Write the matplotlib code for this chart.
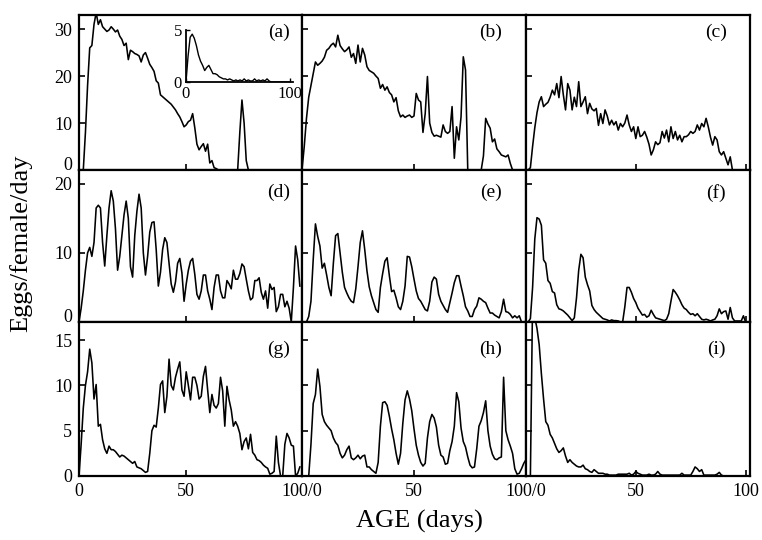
import numpy as np
import matplotlib
matplotlib.use("Agg")
from matplotlib import pyplot as plt

plt.rcParams['font.family'] = ['Liberation Serif', 'DejaVu Serif']

# eggs per female per day, one value per day of age (day 0, 1, 2, ...)
eggs_a = [0, 0, 0, 8, 18, 26, 26.5, 31, 33.5, 31,
          32, 30.5, 30, 29.5, 29.8, 30.5, 30, 29.4, 29.8, 28.5,
          27.8, 26.5, 27, 23.5, 25.5, 25.2, 24.8, 24.6, 24.3, 23,
          24.5, 25, 23.8, 22.5, 21.8, 21, 19, 18.5, 16, 15.6,
          15.2, 14.8, 14.4, 14, 13.4, 12.8, 12, 11.3, 10.3, 9.2,
          9.6, 10.3, 10.6, 12, 9, 5.5, 4.3, 5, 5.6, 4.0,
          5.5, 1.5, 2.0, 0.5, 0.3, 0, 0, 0, 0, 0,
          0, 0, 0, 0, 0, 8, 14.9, 10, 2, 0,
          0, 0, 0, 0, 0, 0, 0, 0, 0, 0,
          0, 0, 0, 0, 0, 0, 0, 0, 0, 0, 0]

eggs_b = [0, 5, 11, 15.5, 18, 20.5, 23, 22.3, 22.7, 23.2,
          24, 25.5, 25.9, 26.6, 27, 26.2, 28.7, 26.5, 25.8, 25.2,
          25.6, 26.2, 24, 24.8, 22.7, 26.6, 23, 25.9, 24.5, 22,
          21.2, 20.9, 20.6, 20, 19.5, 17.4, 18.2, 17, 17.7, 16.5,
          16, 14.5, 15.4, 12.6, 11.3, 11.7, 11.2, 11.5, 11.7, 11.2,
          11.5, 16.3, 14.9, 14.5, 8, 12, 19.9, 10, 8, 7.2,
          7.4, 7.2, 7.0, 9.6, 8.2, 7.8, 8.2, 13.5, 2.5, 9.2,
          6.4, 11.3, 24.1, 21.3, 0, 0, 0, 0, 0, 0,
          0, 3, 11, 9.8, 8.9, 6, 6.6, 4.5, 3.9, 3.2,
          3, 2.8, 3.2, 1.4, 0, 0, 0, 0, 0, 0, 0]

eggs_c = [0, 0, 0.5, 5, 9, 12.2, 14.5, 15.6, 13.5, 14,
          14.4, 15.5, 17, 16, 18.4, 15.4, 19.9, 16, 12.8, 18.4,
          17, 12.8, 15.5, 13.5, 18.8, 13.5, 14.5, 15.6, 12, 14.2,
          13, 12.6, 13.1, 9.5, 12, 9.9, 12.8, 11.5, 9.6, 10.6,
          9.6, 10.3, 8.5, 9.9, 9.2, 10, 11.7, 9.6, 8.2, 9.2,
          6.7, 9.2, 7.1, 7.4, 8.2, 7, 5.5, 3.2, 4.3, 6,
          5.4, 5.8, 8.2, 6.8, 8.5, 6, 9.2, 6.7, 8.2, 6.4,
          7.4, 6, 7.1, 7.1, 7.5, 8.2, 7.8, 8.2, 9.6, 8.5,
          9.9, 9.2, 11, 9.2, 7, 5.3, 7.1, 6.4, 3.9, 3.2,
          3.9, 2.5, 1.1, 2.8, 0, 0, 0, 0, 0, 0, 0]

eggs_d = [0, 2, 4.5, 7.5, 10, 10.8, 9.5, 11.5, 16.5, 16.9,
          16.5, 11.5, 8.1, 12.5, 16.5, 19, 17.5, 13.5, 7.5, 9.5,
          12.5, 15.5, 17.5, 15, 8, 6.5, 12.5, 16, 18.5, 16.5,
          10, 6.8, 9.5, 13, 14.4, 14.5, 10.5, 5.2, 7.2, 10.5,
          12.2, 11.5, 8.5, 5.5, 4.3, 5.8, 8.5, 9.2, 7.1, 3,
          5.5, 7.5, 8.8, 9.2, 6.9, 4, 3.3, 4.5, 6.8, 6.8,
          4.5, 3.3, 1.8, 5, 6.8, 6.8, 4.5, 3.5, 3.5, 6,
          5.5, 4.8, 7.5, 6.2, 6.2, 7, 8.4, 8, 6.2, 4.5,
          3.2, 3.5, 6, 6, 6.4, 4.3, 3.3, 4.5, 2, 5.5,
          4.7, 5, 1.5, 2.2, 4, 4, 2.2, 3, 2, 0,
          5, 11, 9, 5.2]

eggs_e = [0, 0, 0, 0.8, 3, 9, 14.2, 12.4, 11, 7.8,
          8.5, 6.8, 5, 3.8, 8.5, 12.5, 12.8, 10, 7.2, 5,
          4.2, 3.5, 3, 2.8, 4.8, 8, 11.5, 13.2, 10.5, 7.4,
          5.1, 3.8, 2.8, 1.8, 1.4, 5, 7, 8.8, 9.3, 6.7,
          4.4, 4.6, 3.5, 2.2, 1.8, 3, 5.2, 9.5, 9.4, 8,
          6.2, 4.5, 3.4, 3, 2.4, 1.8, 1.6, 3, 5.8, 6.5,
          6.2, 4, 3, 2.4, 1.8, 1.4, 2.8, 4.2, 5.7, 6.7,
          6.7, 5.2, 3.8, 2.2, 1.6, 0.8, 0.8, 1.8, 2.3, 3.5,
          3.3, 3, 2.8, 2, 1.3, 1.3, 1, 0.8, 0.6, 1.5,
          3.3, 1.5, 1.4, 1.1, 0.6, 0.9, 0.6, 0.9, 0, 0, 0]

eggs_f = [0, 0, 0.5, 5, 12, 15.1, 14.9, 14, 9, 8.5,
          6, 5.6, 4.4, 4.2, 2.5, 1.9, 1.8, 1.6, 1.3, 1.0,
          0.6, 0.2, 0.6, 3.5, 7.5, 9.8, 9.3, 6.5, 5.4, 4.5,
          2.4, 1.8, 1.4, 1.1, 0.8, 0.5, 0.4, 0.3, 0.15, 0.3,
          0.2, 0.2, 0.15, 0, 0, 2.2, 5, 5, 4.3, 3.4,
          2.8, 2, 1.5, 1, 1.1, 0.7, 0.9, 1.7, 1.1, 0.6,
          0.5, 0.4, 0.3, 0.2, 0.4, 1.2, 3, 4.7, 4.3, 3.8,
          3.2, 2.5, 2, 1.8, 1.4, 1.1, 1.2, 0.9, 1.2, 0.8,
          0.4, 0.3, 0.4, 0.3, 0.15, 0.3, 0.4, 0.9, 1.9, 1.2,
          1.5, 1.6, 0.4, 2.1, 0.6, 0.15, 0.15, 0.15, 0.15, 0.9, 0]

eggs_g = [0, 3.5, 7.5, 10, 11.5, 14, 12.5, 8.5, 10.1, 5.5,
          5.7, 4, 3, 2.5, 3.3, 2.9, 2.9, 2.7, 2.4, 2.1,
          2.3, 2.2, 2, 1.8, 1.6, 1.4, 1.6, 1, 0.9, 0.8,
          0.6, 0.4, 0.5, 2.5, 5, 5.6, 5.4, 7.5, 10.1, 10.5,
          7, 8.8, 12.9, 10, 9.5, 10.9, 11.8, 12.6, 9.5, 8.8,
          11.5, 10, 8.4, 10.9, 10.9, 10, 8.5, 8.8, 11, 12.1,
          9.5, 7, 9, 7.8, 7.5, 8, 10.9, 9.4, 5.5, 9.9,
          8.4, 7.3, 5.5, 6, 5.5, 4.7, 2.9, 3.8, 4.2, 3,
          4.6, 2.6, 2.3, 1.8, 1.7, 1.5, 1.2, 1, 0.85, 0.2,
          0.3, 0.5, 4.4, 1.5, 0, 0, 3.5, 4.7, 4.2, 3.4,
          3.3, 0, 0.3, 1]

eggs_h = [0, 0, 0, 0, 3.5, 8, 9, 11.8, 9.9, 6.8,
          6, 5.6, 5.3, 5, 4.2, 3.7, 3.4, 2.5, 2, 2.3,
          2.9, 3.3, 2, 1.8, 2, 2.3, 1.9, 2.2, 2.3, 1,
          1, 0.7, 0.5, 0.3, 1.5, 5.5, 8.1, 8.2, 7.8, 6.6,
          5.2, 4, 2.5, 1.3, 2.5, 5.8, 8.4, 9.4, 8.5, 7.2,
          5.2, 3.4, 2.3, 1.5, 1.1, 1.4, 4.2, 6, 6.8, 6.4,
          5.4, 3.4, 2.3, 2.1, 1.3, 1.4, 2.8, 3.8, 5.5, 9.2,
          8.2, 5.3, 3.8, 3.2, 2.1, 1.2, 0.9, 1, 3, 5.5,
          6.1, 7, 8.3, 5, 3.3, 2.4, 1.9, 1.8, 2, 2.1,
          10.9, 5, 4, 3.3, 2.5, 0.8, 0.2, 0.3, 0.8, 1.4, 1.8]

eggs_i = [0, 0, 0, 19.5, 17.5, 16.3, 14.5, 11.3, 8.5, 6,
          5.6, 4.6, 4.2, 3.6, 3, 2.6, 2.8, 3.1, 2.2, 1.5,
          1.8, 1.5, 1.3, 1.1, 1, 1, 1.2, 0.8, 0.7, 0.5,
          0.4, 0.7, 0.5, 0.3, 0.3, 0.3, 0.2, 0.2, 0.1, 0.1,
          0.1, 0.1, 0.2, 0.2, 0.2, 0.2, 0.2, 0.3, 0.1, 0.2,
          0.5, 0.3, 0.2, 0.1, 0.1, 0.1, 0.2, 0.1, 0.1, 0.2,
          0.5, 0.2, 0.1, 0.1, 0.1, 0.1, 0.1, 0.1, 0.1, 0.1,
          0.1, 0.3, 0.1, 0.1, 0.1, 0.1, 0.5, 1, 0.8, 0.5,
          0.7, 0.1, 0.1, 0.1, 0.1, 0.1, 0.1, 0.2, 0.4, 0.1,
          0, 0, 0, 0, 0, 0, 0, 0, 0, 0, 0]

# inset of panel (a), every 2nd day
inset_a = [0, 2.5, 4.3, 4.6, 4.2, 3.5, 2.6, 2.0, 1.6, 1.1,
           1.4, 1.6, 1.2, 0.8, 0.8, 0.7, 0.5, 0.4, 0.3, 0.3,
           0.2, 0.3, 0.2, 0.1, 0.2, 0.1, 0.2, 0.1, 0.3, 0.1,
           0.2, 0.1, 0.1, 0.3, 0.1, 0.2, 0.1, 0.2, 0.1, 0.3,
           0.1, 0, 0, 0, 0, 0, 0, 0, 0, 0, 0]

series = [eggs_a, eggs_b, eggs_c, eggs_d, eggs_e, eggs_f, eggs_g, eggs_h, eggs_i]
panel_names = ['(a)', '(b)', '(c)', '(d)', '(e)', '(f)', '(g)', '(h)', '(i)']
row_yticks = [[0, 10, 20, 30], [0, 10, 20], [0, 5, 10, 15]]
row_ylims = [(0, 33), (0, 22), (0, 17)]
col_xlims = [(0, 104), (0, 100), (0, 102)]
col_xticks = [[0, 50, 104], [50, 100], [50, 100]]
col_xlabels = [['0', '50', '100/0'], ['50', '100/0'], ['50', '100']]

# panel frames in pixels of the 762x540 picture
W, H = 762, 540
col_l = [79, 302, 526]
col_r = [302, 526, 750]
row_t = [15, 170, 322]
row_b = [170, 322, 476]
lab_x = [0.897, 0.844, 0.85]
lab_y = [0.89, 0.85, 0.82]

fig = plt.figure(figsize=(W / 100, H / 100), dpi=100)

for k in range(9):
    r, c = divmod(k, 3)
    ax = fig.add_axes([col_l[c] / W, 1 - row_b[r] / H,
                       (col_r[c] - col_l[c]) / W, (row_b[r] - row_t[r]) / H])
    vals = series[k]
    ax.plot(np.arange(len(vals)), vals, color='black', lw=1.15)
    ax.set_xlim(col_xlims[c])
    ax.set_ylim(row_ylims[r])
    ax.set_xticks(col_xticks[c])
    ax.set_yticks(row_yticks[r])
    if r == 2:
        ax.set_xticklabels(col_xlabels[c])
    else:
        ax.set_xticklabels([])
    if c != 0:
        ax.set_yticklabels([])
    elif r < 2:
        # the "0" rests on the panel floor, clear of the next row's top label
        ax.get_yticklabels()[0].set_verticalalignment('baseline')
    for s in ax.spines.values():
        s.set_linewidth(1.6)
    ax.tick_params(direction='in', length=4, width=1.2, labelsize=13, pad=5)
    ax.text(lab_x[c], lab_y[r], panel_names[k], transform=ax.transAxes,
            ha='center', va='center', fontsize=14)

# inset in panel (a)
ax_in = fig.add_axes([186 / W, 1 - 82 / H, 107 / W, 52 / H])
ax_in.set_facecolor('none')
ax_in.plot(np.arange(len(inset_a)) * 2, inset_a, color='black', lw=1.0)
ax_in.set_xlim(0, 103)
ax_in.set_ylim(0, 5)
ax_in.set_xticks([0, 100])
ax_in.set_yticks([0, 5])
ax_in.spines['top'].set_visible(False)
ax_in.spines['right'].set_visible(False)
for s in ['left', 'bottom']:
    ax_in.spines[s].set_linewidth(1.3)
ax_in.tick_params(direction='in', length=3, width=1.0, labelsize=12, pad=3)

fig.text(0.027, 0.55, 'Eggs/female/day', rotation=90, ha='center', va='center', fontsize=19)
fig.text(0.55, 0.035, 'AGE (days)', ha='center', va='center', fontsize=19)

fig.savefig('out.png', dpi=100)
